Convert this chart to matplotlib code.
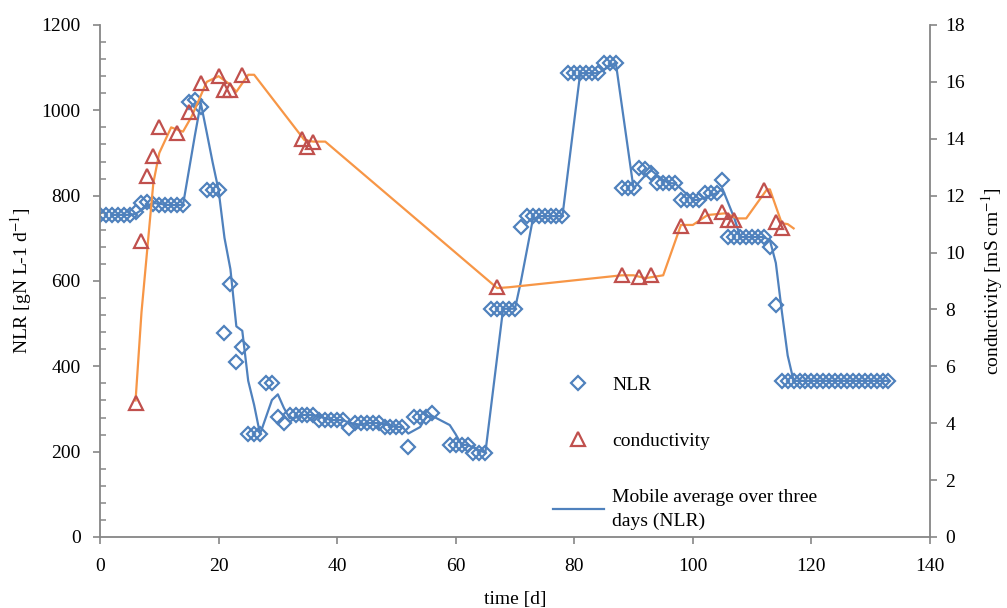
import numpy as np
import pandas as pd
import matplotlib
matplotlib.use("Agg")
import matplotlib.pyplot as plt
from matplotlib.lines import Line2D
from matplotlib.ticker import MultipleLocator

plt.rcParams["font.family"] = ["Liberation Serif", "DejaVu Serif"]
plt.rcParams["mathtext.fontset"] = "stix"

# NLR daily values [gN L-1 d-1]
nlr_day = list(range(0, 57)) + list(range(59, 134))
nlr = [
    755, 755, 755, 755, 755, 755, 762, 782, 786, 780,
    778, 778, 778, 778, 778, 1020, 1024, 1008, 813, 813,
    813, 477, 593, 411, 446, 241, 241, 241, 361, 361,
    281, 267, 286, 286, 286, 286, 286, 274, 274, 274,
    274, 274, 255, 267, 267, 267, 267, 267, 258, 258,
    258, 258, 211, 281, 281, 281, 290,
    216, 216, 216, 216, 197, 197, 197, 535, 535, 535,
    535, 535, 727, 752, 752, 752, 752, 752, 752, 752,
    1087, 1087, 1087, 1087, 1087, 1087, 1112, 1112, 1112, 817,
    817, 817, 864, 862, 852, 829, 829, 829, 829, 790,
    790, 790, 790, 806, 806, 806, 836, 703, 703, 703,
    703, 703, 703, 703, 680, 544, 366, 366, 366, 366,
    366, 366, 366, 366, 366, 366, 366, 366, 366, 366,
    366, 366, 366, 366, 366,
]

# conductivity measurements [mS cm-1]
cond_day = [6, 7, 8, 9, 10, 13, 15, 17, 20, 21, 22, 24, 34, 35, 36,
            67, 88, 91, 93, 98, 102, 105, 106, 107, 112, 114, 115]
cond = [4.7, 10.4, 12.7, 13.4, 14.4, 14.2, 14.95, 15.95, 16.2, 15.7, 15.7, 16.25,
        14.0, 13.72, 13.9, 8.78, 9.21, 9.13, 9.21, 10.92, 11.3, 11.44, 11.15,
        11.15, 12.2, 11.09, 10.85]

# smoothed conductivity curve
cond_line_day = [6, 7, 9, 10, 12, 14, 15.5, 18, 20, 22, 23, 25, 26, 34.5, 36,
                 38, 67, 69, 88, 90, 92, 95, 98, 100, 102.5, 105.5, 107.5, 109,
                 112.5, 113, 115, 116, 117]
cond_line = [4.8, 7.9, 12.45, 13.5, 14.4, 14.25, 14.8, 16.0, 16.2, 15.9, 15.65,
             16.25, 16.25, 13.95, 13.9, 13.9, 8.75, 8.78, 9.2, 9.2, 9.1, 9.2,
             10.97, 10.97, 11.32, 11.38, 11.2, 11.2, 12.22, 12.22, 11.03, 11.0,
             10.85]

# three-day moving average of NLR
nlr_avg = pd.Series(nlr).rolling(3).mean()

blue = "#4F81BD"
red = "#C0504D"
orange = "#F79646"
axis_grey = "#868686"

fig = plt.figure(figsize=(10.07, 6.08), dpi=100)
ax = fig.add_axes([0.0993, 0.1168, 0.8242, 0.8421])
ax2 = ax.twinx()

ax.plot(nlr_day, nlr, linestyle="none", marker="D", ms=7.5, mfc="none",
        mec=blue, mew=1.6, zorder=2)
ax.plot(nlr_day, nlr_avg, color=blue, lw=1.6, zorder=3)

ax2.plot(cond_line_day, cond_line, color=orange, lw=1.6, zorder=2)
ax2.plot(cond_day, cond, linestyle="none", marker="^", ms=10, mfc="none",
         mec=red, mew=1.6, zorder=3)

ax.set_xlim(0, 140)
ax.set_ylim(0, 1200)
ax2.set_ylim(0, 18)
ax.xaxis.set_major_locator(MultipleLocator(20))
ax.yaxis.set_major_locator(MultipleLocator(200))
ax.yaxis.set_minor_locator(MultipleLocator(40))
ax2.yaxis.set_major_locator(MultipleLocator(2))

for a in (ax, ax2):
    a.spines["top"].set_visible(False)
    for s in a.spines.values():
        s.set_color(axis_grey)
        s.set_linewidth(1.3)
ax2.spines["left"].set_visible(False)
ax2.spines["bottom"].set_visible(False)
ax.spines["right"].set_visible(False)

ax.tick_params(axis="y", which="major", direction="out", length=5, width=1.2,
               color=axis_grey, labelsize=14, pad=9)
ax.tick_params(axis="y", which="minor", direction="in", length=4, width=1.1,
               color=axis_grey)
ax.tick_params(axis="x", which="major", direction="out", length=5, width=1.2,
               color=axis_grey, labelsize=14, pad=10)
ax2.tick_params(axis="y", which="major", direction="out", length=5, width=1.2,
                color=axis_grey, labelsize=14, pad=6)

ax.set_xlabel("time [d]", fontsize=14, labelpad=12)
ax.set_ylabel("NLR [gN L-1 d$^{-1}$]", fontsize=14, labelpad=5)
ax2.set_ylabel("conductivity [mS cm$^{-1}$]", fontsize=14, labelpad=10)

handles = [
    Line2D([], [], linestyle="none", marker="D", ms=7.5, mfc="none", mec=blue, mew=1.6),
    Line2D([], [], linestyle="none", marker="^", ms=10, mfc="none", mec=red, mew=1.6),
    Line2D([], [], color=blue, lw=1.6),
]
labels = ["NLR", "conductivity", "Mobile average over three\ndays (NLR)"]
leg = fig.legend(handles, labels, loc="upper left",
                 bbox_to_anchor=(553 / 1007, 1 - 376 / 608), frameon=False,
                 fontsize=14, handlelength=2.6, handletextpad=0.45,
                 labelspacing=2.0, borderpad=0, borderaxespad=0)
for t in leg.get_texts():
    t.set_linespacing(1.5)

fig.savefig("out.png", dpi=100)
